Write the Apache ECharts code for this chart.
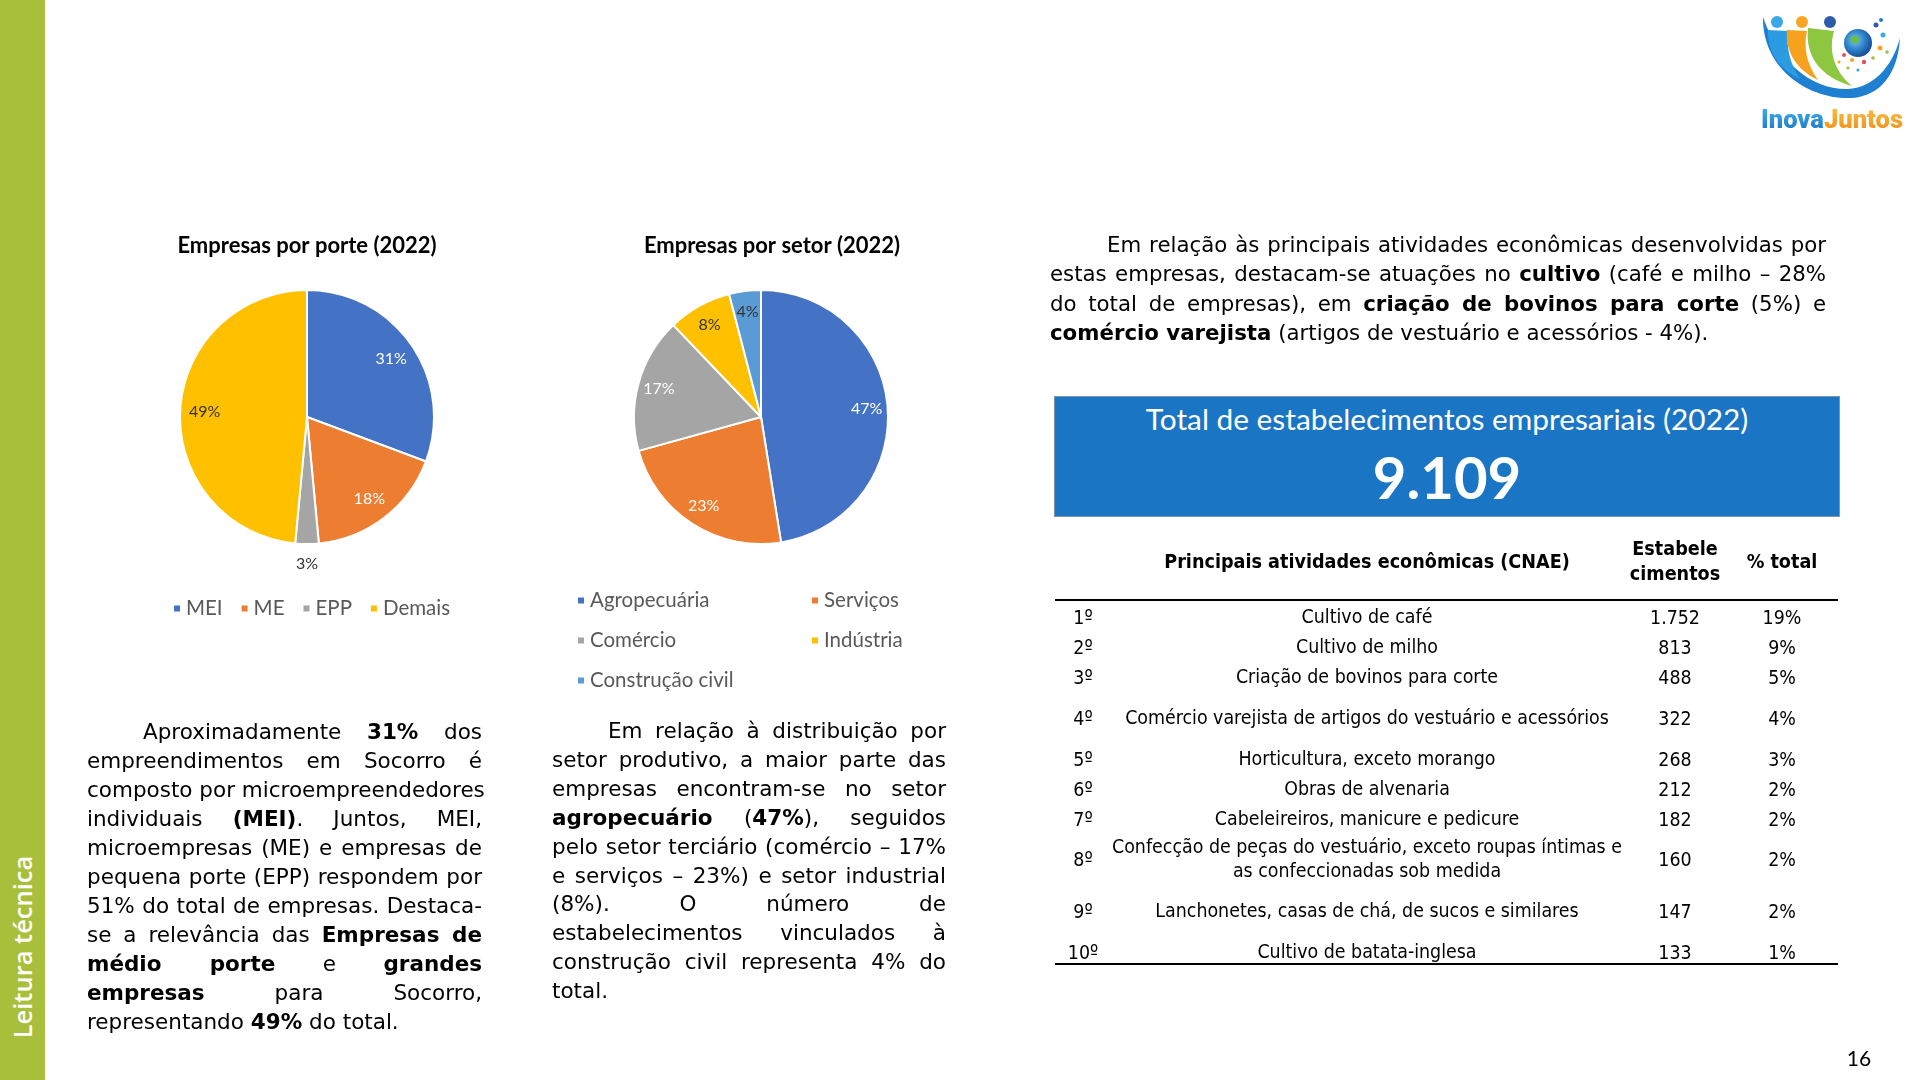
<!DOCTYPE html>
<html><head><meta charset="utf-8">
<script src="https://cdn.jsdelivr.net/npm/echarts/dist/echarts.min.js"></script>
<style>
html,body{margin:0;padding:0;background:#fff;}
#page{position:relative;width:1920px;height:1080px;overflow:hidden;background:#fff;color:#000;}
#chart{position:absolute;left:0;top:0;width:1920px;height:1080px;}
.side{position:absolute;left:0;top:0;width:45px;height:1080px;background:#A8BF3C;}
.sideText{position:absolute;left:22px;top:947px;transform:translate(-50%,-50%) rotate(-90deg);color:#fff;font:600 25.5px 'Open Sans';white-space:nowrap;}
.para{position:absolute;font-family:'DejaVu Sans';font-size:21.5px;}
.para .ln{white-space:nowrap;text-align:justify;text-align-last:justify;}
.para .ln.last{text-align:left;text-align-last:left;}
#p1{left:87px;top:717px;width:395px;line-height:29px;}
#p2{left:552px;top:717px;width:394px;line-height:28.9px;}
#p3{left:1050px;top:230px;width:776px;line-height:29.4px;font-size:21.3px;}
.box{position:absolute;left:1054px;top:396px;width:784px;height:119px;background:#1B75C5;border:1px solid #8095AA;color:#fff;text-align:center;font-family:Lato;}
.box .t{position:absolute;left:0;right:0;top:7px;font-size:29.8px;line-height:30px;}
.box .n{position:absolute;left:0;right:0;top:49px;font-size:58px;line-height:62px;font-weight:bold;}
.tbl{position:absolute;left:0;top:0;font-family:'DejaVu Sans Condensed','DejaVu Sans';font-stretch:condensed;font-size:19.4px;}
.cell{position:absolute;white-space:nowrap;transform:translate(-50%,-50%);text-align:center;}
.hd{font-weight:bold;font-size:19.6px;}
.rule{position:absolute;left:1055px;width:783px;height:2px;background:#000;}
.pg{position:absolute;left:1859px;top:1057px;transform:translate(-50%,-50%);font:21px Lato;}
.logo{position:absolute;left:1740px;top:0;width:180px;height:150px;}
</style></head>
<body><div id="page">
<div id="chart"></div>
<div class="side"></div><div class="sideText">Leitura técnica</div>
<div id="p1" class="para"></div>
<div id="p2" class="para"></div>
<div id="p3" class="para"></div>
<div class="box"><div class="t">Total de estabelecimentos empresariais (2022)</div><div class="n" id="total"></div></div>
<div class="tbl" id="tbl"></div>
<div class="rule" style="top:599px"></div>
<div class="rule" style="top:963px"></div>
<div class="pg">16</div>
<svg class="logo" viewBox="0 0 180 150">
 <defs>
  <radialGradient id="gl" cx="0.4" cy="0.4" r="0.6"><stop offset="0" stop-color="#7CC6F0"/><stop offset="0.6" stop-color="#2B7FC8"/><stop offset="1" stop-color="#1B4E9B"/></radialGradient>
  <linearGradient id="inova" x1="0" y1="0" x2="0" y2="1"><stop offset="0" stop-color="#45B4EE"/><stop offset="1" stop-color="#1A72C4"/></linearGradient>
  <linearGradient id="juntos" x1="0" y1="0" x2="0" y2="1"><stop offset="0" stop-color="#FBC34A"/><stop offset="1" stop-color="#F08A12"/></linearGradient>
 </defs>
 <path d="M23,17 C22,68 68,100 112,98 C140,96 158,74 160,38 C152,68 132,88 108,89 C72,90 38,62 23,17 Z" fill="#1F7FD0"/>
 <path d="M28,30 C27,52 40,70 60,79 C50,64 46,47 48,31 Z" fill="#2C9CE2"/>
 <path d="M47,30 C45,52 57,70 78,80 C67,65 63,47 67,31 Z" fill="#F6A21D"/>
 <path d="M68,28 C65,56 80,77 112,86 C95,72 88,52 94,31 Z" fill="#8DC63F"/>
 <circle cx="37" cy="22" r="6" fill="#3AA7E6"/>
 <circle cx="62" cy="22" r="6" fill="#F7A523"/>
 <circle cx="90" cy="22" r="6" fill="#2D5DAA"/>
 <circle cx="118" cy="43" r="14" fill="url(#gl)"/>
 <path d="M110,38 C114,34 120,36 119,41 C117,45 112,45 110,38 Z" fill="#6DBE45"/>
 <circle cx="136" cy="25" r="2.5" fill="#2D5DAA"/><circle cx="141" cy="20" r="2" fill="#1F7FD0"/>
 <circle cx="143" cy="35" r="2.5" fill="#3AA7E6"/><circle cx="140" cy="48" r="2.5" fill="#F7A523"/>
 <circle cx="147" cy="52" r="1.8" fill="#8DC63F"/><circle cx="104" cy="55" r="2" fill="#E0505A"/>
 <circle cx="112" cy="60" r="2" fill="#F7A523"/><circle cx="124" cy="62" r="2.2" fill="#E0505A"/>
 <circle cx="133" cy="58" r="1.8" fill="#8DC63F"/><circle cx="118" cy="70" r="1.6" fill="#3AA7E6"/>
 <circle cx="108" cy="68" r="1.6" fill="#8DC63F"/><circle cx="99" cy="62" r="1.5" fill="#F7A523"/>
 <text x="21" y="128" font-family="Roboto" font-weight="900" font-size="25" textLength="142" lengthAdjust="spacingAndGlyphs"><tspan fill="url(#inova)">Inova</tspan><tspan fill="url(#juntos)">Juntos</tspan></text>
</svg>
</div>
<script>
// ---------- data ----------
const porteNames = ['MEI', 'ME', 'EPP', 'Demais'];
const porteValues = [31, 18, 3, 49];
const setorNames = ['Agropecuária', 'Serviços', 'Comércio', 'Indústria', 'Construção civil'];
const setorValues = [47, 23, 17, 8, 4];
const rankLabels = ['1º', '2º', '3º', '4º', '5º', '6º', '7º', '8º', '9º', '10º'];
const activities = [
  'Cultivo de café',
  'Cultivo de milho',
  'Criação de bovinos para corte',
  'Comércio varejista de artigos do vestuário e acessórios',
  'Horticultura, exceto morango',
  'Obras de alvenaria',
  'Cabeleireiros, manicure e pedicure',
  'Confecção de peças do vestuário, exceto roupas íntimas e<br>as confeccionadas sob medida',
  'Lanchonetes, casas de chá, de sucos e similares',
  'Cultivo de batata-inglesa'
];
const establishments = ['1.752', '813', '488', '322', '268', '212', '182', '160', '147', '133'];
const shares = ['19%', '9%', '5%', '4%', '3%', '2%', '2%', '2%', '2%', '1%'];
const totalEstablishments = '9.109';

// ---------- text ----------
const p1Lines = [
  'Aproximadamente <b>31%</b> dos',
  'empreendimentos em Socorro é',
  'composto por microempreendedores',
  'individuais <b>(MEI)</b>. Juntos, MEI,',
  'microempresas (ME) e empresas de',
  'pequena porte (EPP) respondem por',
  '51% do total de empresas. Destaca-',
  'se a relevância das <b>Empresas de</b>',
  '<b>médio porte</b> e <b>grandes</b>',
  '<b>empresas</b> para Socorro,',
  'representando <b>49%</b> do total.'
];
const p2Lines = [
  'Em relação à distribuição por',
  'setor produtivo, a maior parte das',
  'empresas encontram-se no setor',
  '<b>agropecuário</b> (<b>47%</b>), seguidos',
  'pelo setor terciário (comércio – 17%',
  'e serviços – 23%) e setor industrial',
  '(8%). O número de',
  'estabelecimentos vinculados à',
  'construção civil representa 4% do',
  'total.'
];
const p3Lines = [
  'Em relação às principais atividades econômicas desenvolvidas por',
  'estas empresas, destacam-se atuações no <b>cultivo</b> (café e milho – 28%',
  'do total de empresas), em <b>criação de bovinos para corte</b> (5%) e',
  '<b>comércio varejista</b> (artigos de vestuário e acessórios - 4%).'
];

// ---------- layout / style ----------
const porteColors = ['#4472C4', '#ED7D31', '#A5A5A5', '#FFC000'];
const porteLabelColors = ['#fff', '#fff', '#333', '#333'];
const setorColors = ['#4472C4', '#ED7D31', '#A5A5A5', '#FFC000', '#5B9BD5'];
const setorLabelColors = ['#fff', '#fff', '#fff', '#333', '#333'];
const rowCenters = [617, 647, 677, 718, 759, 789, 819, 859, 911, 952];
const colX = [1083, 1367, 1675, 1782];

function buildPara(id, lines, indent) {
  const el = document.getElementById(id);
  lines.forEach((h, i) => {
    const d = document.createElement('div');
    d.className = 'ln' + (i === lines.length - 1 ? ' last' : '');
    d.innerHTML = h;
    if (i === 0) d.style.textIndent = indent + 'px';
    el.appendChild(d);
  });
}
buildPara('p1', p1Lines, 56);
buildPara('p2', p2Lines, 56);
buildPara('p3', p3Lines, 57);
document.getElementById('total').textContent = totalEstablishments;

const tbl = document.getElementById('tbl');
function cell(x, y, html, cls) {
  const d = document.createElement('div');
  d.className = 'cell' + (cls ? ' ' + cls : '');
  d.style.left = x + 'px'; d.style.top = y + 'px';
  d.innerHTML = html; tbl.appendChild(d); return d;
}
cell(colX[1], 561, 'Principais atividades econômicas (CNAE)', 'hd');
const e = cell(colX[2], 561, 'Estabele<br>cimentos', 'hd'); e.style.lineHeight = '25px';
cell(colX[3], 561, '% total', 'hd');
rankLabels.forEach((r, i) => {
  cell(colX[0], rowCenters[i], r);
  const a = cell(colX[1], rowCenters[i], activities[i]); a.style.lineHeight = '24px';
  cell(colX[2], rowCenters[i], establishments[i]);
  cell(colX[3], rowCenters[i], shares[i]);
});

// ---------- chart ----------
const chart = echarts.init(document.getElementById('chart'), null, {renderer: 'canvas'});
function mainPie(names, values, colors, center) {
  return {
    type: 'pie', center: center, radius: [0, 127], startAngle: 90, clockwise: true,
    label: {show: false}, labelLine: {show: false}, emphasis: {disabled: true},
    itemStyle: {borderColor: '#fff', borderWidth: 2},
    data: names.map((n, i) => ({name: n, value: values[i], itemStyle: {color: colors[i]}}))
  };
}
function labelPie(names, values, center, outer, showFlags, labelColors) {
  return {
    type: 'pie', center: center, radius: [0, outer], startAngle: 90, clockwise: true,
    silent: true, z: 5, emphasis: {disabled: true}, labelLine: {show: false},
    itemStyle: {color: 'rgba(0,0,0,0)', borderWidth: 0},
    label: {show: true, position: 'inside', formatter: '{c}%', fontFamily: 'Lato', fontSize: 16},
    data: names.map((n, i) => ({name: n, value: values[i], label: {show: showFlags[i], color: labelColors[i]}}))
  };
}
const legendText = {color: '#595959', fontFamily: 'Lato', fontSize: 20.5, lineHeight: 20};
chart.setOption({
  animation: false,
  backgroundColor: 'transparent',
  graphic: [
    {type: 'text', x: 307, y: 246, style: {text: 'Empresas por porte (2022)', font: 'bold 22px Lato', fill: '#000', align: 'center', verticalAlign: 'middle'}},
    {type: 'text', x: 772, y: 246, style: {text: 'Empresas por setor (2022)', font: 'bold 22px Lato', fill: '#000', align: 'center', verticalAlign: 'middle'}}
  ],
  legend: [
    {data: porteNames, left: 167, top: 593, orient: 'horizontal', icon: 'rect', itemWidth: 8, itemHeight: 8, itemGap: 17, selectedMode: false, textStyle: legendText},
    {data: [setorNames[0], setorNames[2], setorNames[4]], left: 571, top: 585, orient: 'vertical', icon: 'rect', itemWidth: 8, itemHeight: 8, itemGap: 19, selectedMode: false, textStyle: legendText},
    {data: [setorNames[1], setorNames[3]], left: 805, top: 585, orient: 'vertical', icon: 'rect', itemWidth: 8, itemHeight: 8, itemGap: 19, selectedMode: false, textStyle: legendText}
  ],
  series: [
    mainPie(porteNames, porteValues, porteColors, [307, 417]),
    mainPie(setorNames, setorValues, setorColors, [761, 417]),
    labelPie(porteNames, porteValues, [307, 417], 199, [true, true, false, true], porteLabelColors),
    labelPie(porteNames, porteValues, [307, 417], 288, [false, false, true, false], porteLabelColors),
    labelPie(setorNames, setorValues, [761, 417], 206, [true, true, true, true, true], setorLabelColors)
  ]
});
</script>
</body></html>
